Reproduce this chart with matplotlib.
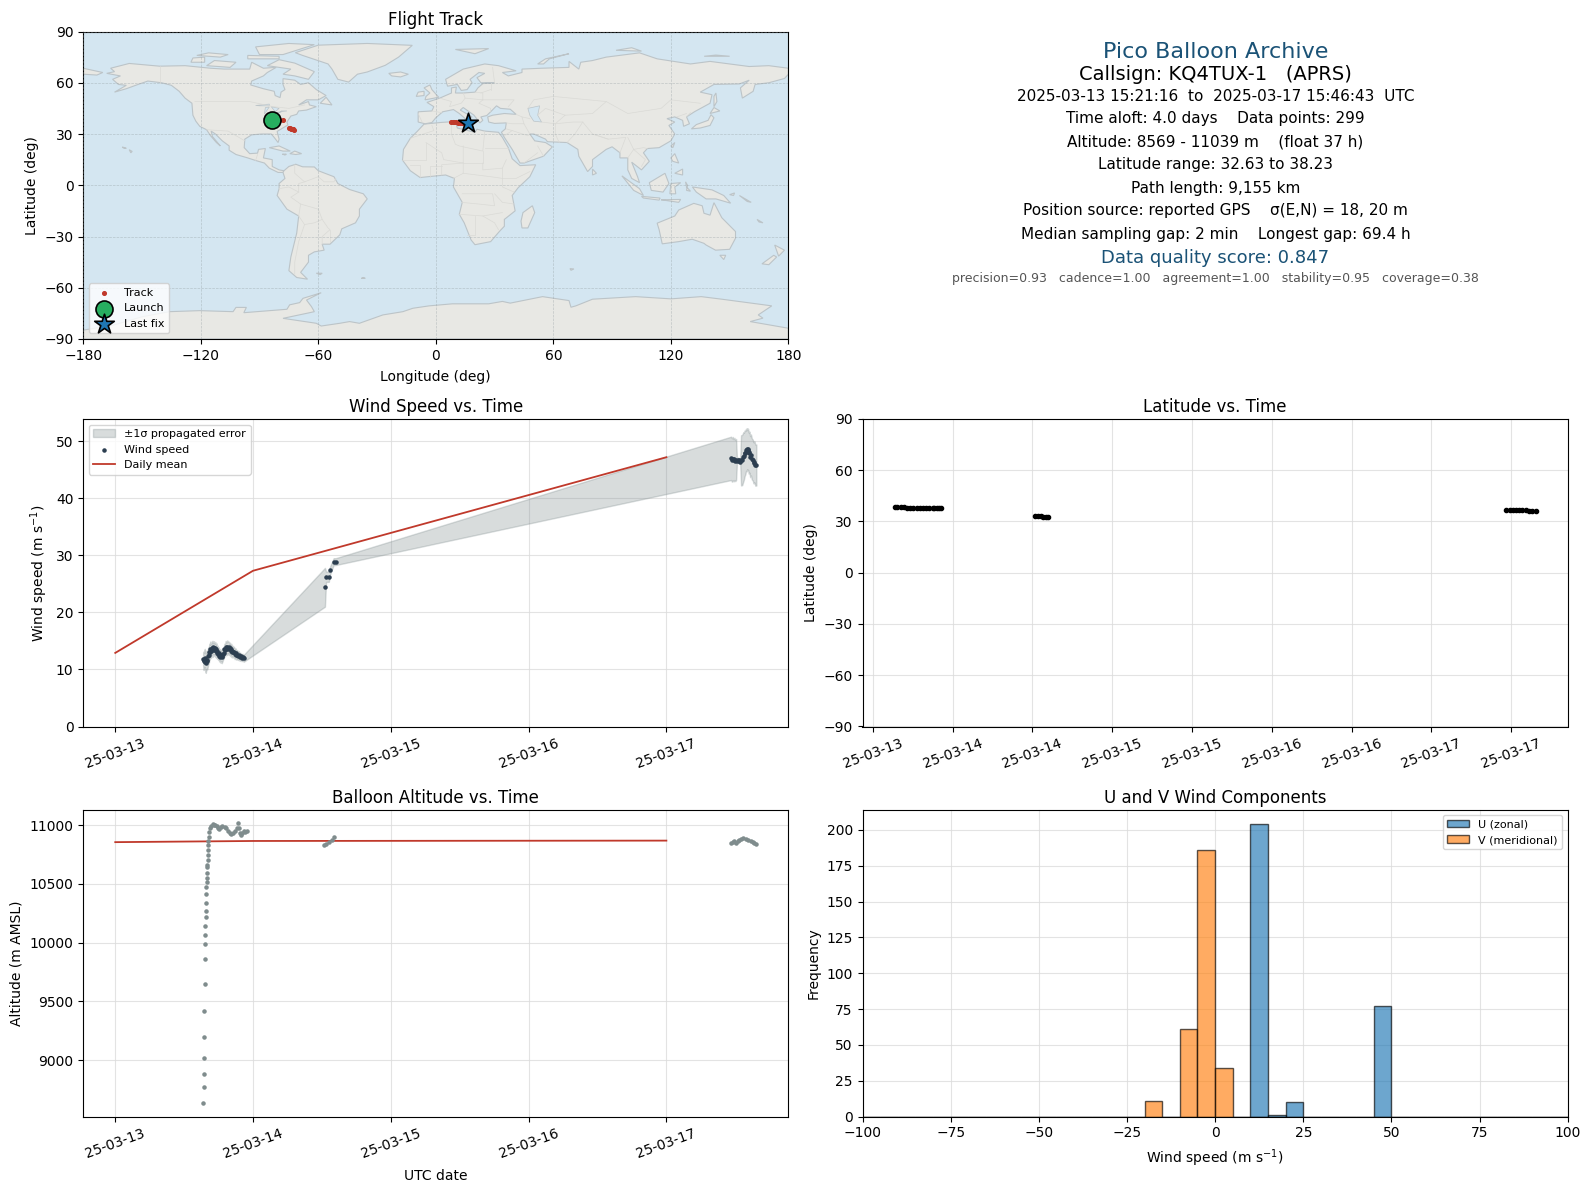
import matplotlib
matplotlib.use("Agg")
import matplotlib.pyplot as plt
import matplotlib.dates as mdates
import numpy as np
from datetime import datetime, timedelta

# -----------------------------
# DATA (time is day of March 2025)
# -----------------------------
wind_t = [13.638, 13.641, 13.645, 13.65, 13.654, 13.657, 13.663, 13.668, 13.674, 13.68, 13.683, 13.686, 13.69, 13.695,
          13.703, 13.707, 13.71, 13.714, 13.718, 13.722, 13.726, 13.73, 13.734, 13.738, 13.742, 13.746, 13.75, 13.754,
          13.758, 13.763, 13.768, 13.773, 13.778, 13.782, 13.787, 13.792, 13.797, 13.802, 13.808, 13.813, 13.819,
          13.823, 13.828, 13.832, 13.837, 13.842, 13.846, 13.85, 13.855, 13.861, 13.867, 13.873, 13.879, 13.885,
          13.891, 13.897, 13.903, 13.91, 13.917, 13.925, 13.932,
          14.522, 14.53, 14.55, 14.56, 14.585, 14.6,
          17.47, 17.476, 17.482, 17.488, 17.494, 17.5, 17.506, 17.512, 17.518, 17.524, 17.53, 17.536, 17.542, 17.55,
          17.559, 17.563, 17.568, 17.573, 17.578, 17.582, 17.586, 17.59, 17.593, 17.598, 17.603, 17.608, 17.614, 17.62,
          17.627, 17.633, 17.639, 17.646, 17.653]
wind_v = [11.9, 11.4, 11.7, 12.0, 11.3, 11.1, 11.7, 11.5, 12.3, 12.6, 13.1, 13.0, 13.6, 13.2,
          13.8, 13.4, 13.9, 13.5, 13.8, 13.4, 13.7, 13.2, 13.5, 12.9, 13.2, 12.7, 12.9, 12.4,
          12.6, 12.2, 12.5, 12.1, 12.4, 12.7, 12.9, 13.5, 13.4, 13.9, 13.6, 14.0, 13.7,
          13.9, 13.5, 13.7, 13.3, 13.5, 13.1, 13.3, 13.0, 13.1, 12.7, 12.9, 12.5, 12.6,
          12.35, 12.5, 12.2, 12.3, 12.05, 12.15, 11.95,
          24.4, 26.25, 26.25, 27.4, 28.9, 28.9,
          47.0, 46.7, 46.95, 46.65, 46.9, 46.6, 46.8, 46.55, 46.75, 46.5, 46.7, 46.4, 46.65, 46.7,
          47.3, 47.4, 47.9, 48.0, 48.5, 48.3, 48.7, 48.4, 48.6, 47.9, 48.1, 47.3, 47.6, 46.9,
          46.7, 46.2, 46.4, 45.8, 45.85]
wind_err = [1.2, 1.5, 1.5, 1.6, 1.7, 1.7, 1.6, 1.5, 1.5, 1.4, 1.4, 1.3, 1.3, 1.2,
            1.2, 1.2, 1.1, 1.1, 1.1, 1.1, 1.1, 1.1, 1.1, 1.0, 1.0, 1.0, 1.0, 1.0,
            1.0, 1.0, 1.0, 1.0, 1.0, 1.0, 1.0, 1.0, 1.1, 1.1, 1.1, 1.1, 1.1,
            1.0, 1.0, 1.0, 1.0, 1.0, 1.0, 0.9, 0.9, 0.9, 0.9, 0.8, 0.8, 0.8,
            0.7, 0.7, 0.7, 0.6, 0.6, 0.6, 0.6,
            3.4, 0.9, 0.9, 0.7, 0.6, 0.6,
            3.8, 3.8, 3.8, 3.7, 3.7, 3.6, 3.6, 0.4, 0.4, 0.4, 0.4, 0.4, 4.4, 4.4,
            4.3, 4.1, 4.0, 3.8, 3.7, 3.6, 3.6, 3.6, 3.6, 3.6, 3.6, 3.6, 3.6, 3.6,
            3.6, 3.6, 3.6, 3.6, 3.6]

daily_t = [13, 14, 17]
daily_wind = [12.9, 27.3, 47.2]
daily_alt = [10855, 10865, 10868]

alt_t = [13.639, 13.646, 13.646, 13.646, 13.646, 13.646, 13.653, 13.653, 13.653, 13.653, 13.653, 13.66, 13.66,
         13.66, 13.66, 13.66, 13.667, 13.667, 13.667, 13.667, 13.667, 13.675, 13.675, 13.675, 13.675, 13.675,
         13.682, 13.682, 13.687, 13.696, 13.706, 13.714, 13.723, 13.735, 13.747, 13.754, 13.764, 13.778, 13.795,
         13.807, 13.819, 13.831, 13.843, 13.855, 13.867, 13.88, 13.889, 13.896, 13.904, 13.911, 13.923, 13.933,
         13.94, 13.955,
         14.518, 14.53, 14.554, 14.571, 14.59,
         17.47, 17.482, 17.494, 17.506, 17.518, 17.53, 17.542, 17.559, 17.578, 17.593, 17.614, 17.627, 17.639,
         17.653]
alt_v = [8640, 8768, 8879, 9015, 9194, 9415, 9645, 9858, 9986, 10063, 10139, 10216, 10267,
         10335, 10412, 10472, 10514, 10548, 10591, 10642, 10659, 10702, 10744, 10787, 10830, 10867,
         10900, 10938, 10972, 10994, 11008, 11005, 11003, 10994, 10974, 10963, 10986, 10994, 10986,
         10974, 10952, 10935, 10923, 10929, 10946, 10974, 11014, 10974, 10929, 10912, 10929, 10946,
         10943, 10950,
         10830, 10838, 10852, 10872, 10895,
         10845, 10860, 10862, 10850, 10865, 10872, 10880, 10888, 10882, 10872, 10868, 10855, 10848,
         10842]

lat_t = [13.637, 13.655, 13.675, 13.695, 13.715, 13.735, 13.755, 13.775, 13.795, 13.815, 13.835, 13.855, 13.875,
         13.886, 13.9, 13.915, 13.93,
         14.519, 14.535, 14.552, 14.57, 14.585, 14.6,
         17.47, 17.49, 17.51, 17.53, 17.55, 17.57, 17.59, 17.61, 17.63, 17.653]
lat_v = [38.23, 38.2, 38.2, 38.2, 38.18, 38.18, 38.15, 38.15, 38.12, 38.1, 38.1, 38.08, 38.05,
         37.95, 37.8, 37.75, 37.7,
         33.4, 33.2, 33.0, 32.9, 32.75, 32.63,
         36.7, 36.7, 36.65, 36.65, 36.7, 36.6, 36.5, 36.4, 36.2, 36.05]

track_lon = [-83.6, -82, -80, -78, -75, -74.5, -74, -73.5, -73, -72.7, -72.5, 7.8, 8.6, 9.4, 10.4, 11.4, 12.4, 13.4, 14.4, 15.4, 16.2]
track_lat = [38.2, 38.2, 38.1, 38, 33.5, 33.4, 33.2, 33, 32.9, 32.75, 32.63, 36.9, 36.9, 36.85, 36.8, 36.7, 36.6, 36.6, 36.6, 36.6, 36.6]

# histogram, bins are 5 m/s wide
bin_edges = list(range(-100, 105, 5))
u_counts = [0] * 22 + [204, 1, 10] + [0] * 4 + [77] + [0] * 10
v_counts = [0] * 16 + [11, 0, 61, 186, 34] + [0] * 19

# map outlines, lon/lat
north_america = [(-168,65.5),(-164,66.5),(-166,68.5),(-156.5,71.3),(-141,69.7),(-128,70),(-115,68.5),(-108,68),(-95,68),(-94,72),(-88,68.5),(-81.5,69),(-86,66),(-88,64),(-94,61),(-94.5,58.7),(-88,56.5),(-82.5,55),(-82,52.5),(-79.5,51.3),(-79,54.5),(-77,56),(-78,59),(-78,62.4),(-72,61.5),(-69,59),(-65,60),(-61,56),(-56,52.5),(-60,50),(-66,50),(-70,47),(-65,49),(-64.5,47),(-61,46),(-66,44),(-70,43.5),(-71,41.5),(-74,40.5),(-76,37),(-75.5,35.3),(-81,31.5),(-80,27),(-80.5,25),(-82.5,28),(-84,30),(-89,30),(-94,29.5),(-97.5,27),(-97.8,22),(-95,18.5),(-91,18.8),(-90.5,21),(-87,21.5),(-88,16),(-83.5,15),(-83.5,11),(-80,9),(-77.5,8.5),(-78,7.5),(-80.5,7.5),(-85,10),(-87.5,13),(-92,14.5),(-96,16),(-102,18),(-105.5,20.5),(-105.5,23),(-109,26),(-112.5,30),(-114.7,31.7),(-114,28.5),(-110,23),(-112,25),(-115,29),(-117,32.5),(-120.5,34.5),(-122.5,37.5),(-124,41),(-124.5,48),(-128,51),(-131,55),(-135,58.5),(-140,60),(-147,61),(-152,59),(-158,56.5),(-164,54.5),(-158,58.5),(-162,59),(-165,62),(-161,64)]
south_america = [(-77.5,8.5),(-75,11),(-71.5,12.3),(-68,10.8),(-62,10.7),(-60,8.5),(-52,5),(-50,1),(-44,-2.5),(-37,-5),(-35,-8),(-39,-14),(-39,-18),(-41,-22),(-48,-25.5),(-49,-29),(-54,-34.5),(-58,-34.5),(-57,-38),(-62,-39),(-65,-41),(-65,-45),(-69,-51),(-65.5,-55),(-71,-54),(-75,-50),(-74,-42),(-72.5,-35),(-71,-28),(-70,-18),(-76,-14),(-81,-6),(-80,-2),(-80,1),(-77,4),(-78,7.5)]
africa = [(-6,35.8),(3,36.8),(10,37.3),(11,33.5),(20,31),(21,32.8),(25,31.7),(32,31),(34,28),(37,22),(39,15.5),(43,11.5),(51,12),(48,5),(42,-1.5),(39,-6),(40.5,-15),(35,-20),(35,-24),(32.5,-27),(28,-33),(20,-34.8),(18,-32),(14.5,-22),(12,-17),(13.5,-10),(9,-1),(9.5,4),(5,6),(-4,5),(-8,4.5),(-13,8.5),(-17,14.7),(-16.5,21),(-13,27.5),(-9.5,31.5)]
eurasia = [(-9,37),(-9,43),(-2,43.5),(-1,46),(-4.5,48.5),(2,51),(8,54),(8,57),(10.5,57.5),(10,54),(14,54),(20,54.5),(21.5,57),(24,59.5),(30,60),(23,60),(21,63),(25,65.5),(22,66),(17.5,62),(18.5,60),(16,56),(13,55.5),(11,59),(6,58),(5,62),(14,68),(25,71),(32,70),(41,67),(34,66),(37,64),(44,66),(44,68),(54,68.5),(68,69),(68,72.5),(73,68),(74,72),(80,73),(87,75),(104,77.5),(113,74),(130,71),(140,72.5),(160,69.5),(170,70),(180,68.5),(180,65),(178,62.5),(170,60),(163,59),(162,55),(156.5,51),(155.5,57),(160,61.5),(155,59.3),(142,59),(135,54.5),(141,53),(140,48),(132,43),(128,40),(129.5,36),(126.5,34.5),(126,38),(122,40),(118,39),(122,37),(119,35),(122,30),(120,26),(114,22),(108,21.5),(106,19),(109,14),(105,9),(100,13.5),(103,5),(104,1.5),(100,4),(98,9),(98,16),(94,16),(94,19),(90,22.5),(87,21),(80,15),(80,11),(77.5,8),(73,17),(72.5,21),(67,25),(57,25.5),(56,27),(50,30),(48,30),(50.5,26),(56,25),(59.5,22.5),(55,17),(45,13),(43,13),(39,21),(35,28),(33.5,31),(35.5,33),(36,36.5),(30,36.2),(27,37),(26.5,40),(29,41),(35,42),(41,41.5),(38,44.5),(33,45),(31,46.5),(28,43),(26,40.8),(23,40),(24,38),(22.5,36.5),(19.5,41),(14,45.5),(12.5,44),(18.5,40),(16,38),(12,42),(9,44.3),(3.5,43),(0,39.5),(-2,36.7),(-5.5,36)]
antarctica = [(-180,-84.8),(-165,-82),(-150,-77),(-136,-74),(-120.5,-73.4),(-103.5,-74),(-102,-71.5),(-96.7,-71.5),(-98,-74.6),(-76,-72.6),(-74.6,-70),(-69.5,-68.7),(-67.8,-66.2),(-58.5,-62.9),(-66,-67.2),(-63.5,-71),(-62,-74),(-64.4,-74.6),(-78,-77.9),(-61,-80.8),(-58.5,-82.4),(-49,-80.8),(-44,-79.8),(-39,-80.8),(-27,-75.9),(-16.8,-74),(-11.7,-72),(-3.4,-70.6),(8.5,-69.4),(27,-69.4),(34,-68),(38,-69),(54.5,-65.2),(68,-67.5),(69,-71.4),(71.5,-70.6),(80,-66.7),(102,-65.2),(120,-66.5),(135.5,-65.2),(146,-66.7),(171.5,-70.6),(164.6,-75.9),(167,-77.8),(160.5,-79.8),(180,-83.7),(180,-90),(-180,-90)]
australia = [(113,-22.2),(122,-18),(124,-14.5),(131.7,-10.6),(136,-12),(136.9,-16.4),(140,-17.5),(142,-10.2),(146,-19),(153,-27.1),(153,-31),(150,-37.5),(142.8,-38),(138,-35),(136.9,-34),(130.9,-31.6),(124,-33),(115.6,-34.3),(114,-26)]
islands = [
    [(-71.7,77.6),(-60,82),(-35,83),(-12,81.9),(-19,75),(-25.8,70.2),(-35,66.3),(-40,65),(-44.5,60.4),(-50,62),(-53,68),(-55,71),(-68,76)],
    [(-80,73.5),(-72,71.5),(-62,66.5),(-65,62),(-72,64),(-78,65),(-74,68),(-86,70)],
    [(-117,70),(-105,69),(-102,72),(-113,73)],
    [(-90,76.5),(-78,76.5),(-62,82.3),(-75,83),(-92,81)],
    [(-125,72),(-118,72),(-118,75),(-124,74.5)],
    [(-96,74),(-80,74),(-80,75.5),(-96,76)],
    [(-122,76),(-110,75),(-106,76.5),(-116,77.5)],
    [(-59,48),(-56,51.5),(-53,47)],
    [(-85,22),(-80,23),(-74.3,20),(-78,20)],
    [(-74.5,18.5),(-72,20),(-68.5,18.5),(-71.5,18)],
    [(-78.3,18.2),(-76.3,18.2),(-77,17.7)],
    [(-160,22.4),(-158,21.6),(-159.5,21.8)],
    [(-156.5,20.8),(-155,19.8),(-155.7,19)],
    [(49.3,-12),(50.5,-16),(47,-25),(44,-25),(43.5,-21),(44.5,-16)],
    [(-5.5,50),(1.5,51.5),(-2,56),(-3,58.7),(-6,57),(-3,54),(-5,52)],
    [(-10,52),(-6,52.5),(-6,55),(-9,54.5)],
    [(-24,65.5),(-18,66.3),(-14,65),(-18,63.4),(-22.5,64)],
    [(10,79.5),(27,80),(20,77)],
    [(52,71),(56,74),(68,77),(58,74),(55,71)],
    [(92,79),(105,78.5),(100,80.5)],
    [(137,75.5),(150,75.5),(143,76.2)],
    [(130.5,33),(135,33.5),(140,35),(142,39.5),(140.5,41.3),(139,38),(133,35.5)],
    [(140,42),(145,43.5),(142,45.5)],
    [(142,46),(143.5,49),(143,54),(142,52)],
    [(120,23),(122,25),(121,22)],
    [(120,16),(122,18.5),(124,13),(121,14)],
    [(122,7),(126,9.5),(126,6)],
    [(109,1.5),(117,7),(119,1),(116,-4),(110,-3)],
    [(95,5.5),(104,-2),(106,-6),(101,-3)],
    [(105,-6.5),(114.5,-7.5),(114,-8.7),(106,-7.5)],
    [(119.5,-5),(120,1),(125,1.5),(122,-1),(122.5,-5)],
    [(115,-8.5),(125,-8.3),(124,-10),(118,-9)],
    [(127.5,2),(128.5,0),(128,-3),(130,-3.5),(128,-1)],
    [(131,-1),(141,-2.7),(147,-6),(150.5,-10.5),(143,-8),(138,-8),(133,-4)],
    [(150,-5.5),(152.5,-4.5),(152,-6)],
    [(155,-6),(161,-10),(159,-9.5)],
    [(164,-20),(167,-22),(165,-21.5)],
    [(145,-41),(148,-41),(147,-43.5)],
    [(173,-35),(178,-38),(175,-41.5)],
    [(172.5,-41),(174,-42),(170,-46.5),(166.5,-46)],
    [(80,9.5),(82,7),(80,6)],
    [(-180,68.5),(-170,66),(-173,64.5),(-180,65)],
    [(-61,-51.5),(-58,-51.5),(-59,-52.3)],
    [(-37,-54),(-36,-54.5),(-38,-54.5)],
    [(68.5,-48.8),(70.5,-49),(69,-49.8)],
]
lakes = [
    [(47,45),(53,46.5),(52,41),(54,37),(50,37.5),(48,41)],
    [(-92,46.7),(-85,47.5),(-85,46.5),(-90,46.5)],
    [(-87.5,41.7),(-85,45.8),(-87,45.5)],
    [(-84,46),(-80,45),(-82,43)],
    [(-83,42),(-79,42.8),(-79,43.5),(-76,43.5),(-79.5,43)],
]
borders = [
    [(-141,69.7),(-141,60)], [(-123,49),(-95,49),(-83,46),(-75,45),(-67,47)], [(-117,32.5),(-106,31.7),(-97.5,26)],
    [(-92,14.5),(-91,18)], [(-70,-18),(-69,-11),(-74,-7),(-70,-4),(-70,1),(-67,2),(-60,5)], [(-80,-2),(-75,-1),(-70,-4)],
    [(-72,12),(-72,7),(-67,2)], [(-69,-11),(-60,-14),(-58,-20),(-62,-22),(-67,-23),(-70,-18)],
    [(-58,-20),(-55,-25),(-54,-26),(-58,-30),(-58,-34.5)], [(-67,-23),(-70,-33),(-72,-45),(-72,-52)],
    [(-54,-26),(-54,-33.5)], [(-60,5),(-57,2),(-52,2),(-51,4)],
    [(-13,27.5),(-1,32),(-2,35)], [(8,37),(8,30),(10,24),(12,23),(24,20),(25,31.7)], [(25,22),(37,22)],
    [(-5,25),(3,19),(4,15),(14,13),(14,23)], [(-17,15),(-5,15),(-5,25)], [(14,13),(24,13),(24,20)],
    [(24,13),(24,9),(34,10),(36,15)], [(34,10),(34,4),(41,4),(48,8)], [(3,6),(3,12),(14,13)], [(9,4),(14,7),(14,13)],
    [(14,7),(28,5),(34,4)], [(13.5,-5),(29,-5),(30,-12),(22,-11),(13,-10)], [(34,4),(34,-1),(40,-4)],
    [(30,-5),(34,-10),(40,-11)], [(12,-17),(24,-18),(34,-16)], [(20,-18),(20,-29),(16,-29)], [(24,-18),(30,-22),(32,-26)],
    [(-8,5),(-8,12),(-13,12)], [(-3,5),(-3,11),(3,11)],
    [(2,51),(8,49),(7,46),(10,47),(13,48),(15,51),(14,54)], [(-2,43.5),(3,42.5)], [(-9,42),(-7,37)], [(15,51),(24,50),(24,54),(20,54.5)],
    [(24,50),(40,50),(37,46)], [(24,50),(22,48),(28,45),(28,43)], [(28,56),(28,60)], [(23,54),(28,56)], [(30,60),(29,69)],
    [(41,41.5),(44,40),(45,36),(39,36),(36,36.5)], [(45,36),(48,30)], [(36,33),(39,32),(47,29),(48,30)], [(35,29),(39,32)],
    [(44,40),(48,39)], [(52,41),(56,45),(66,41),(61,36),(54,37)], [(61,36),(61,30),(63,25)], [(61,36),(70,37),(75,37),(71,30),(67,25)],
    [(75,37),(80,30),(88,27),(97,28),(94,19)], [(80,30),(88,27)], [(66,41),(80,42),(87,49),(98,42),(115,45),(120,50),(135,48)],
    [(87,49),(60,52),(50,50),(47,45)], [(98,28),(101,21),(106,22),(108,21.5)], [(101,21),(98,16)], [(101,21),(107,15),(105,11)],
    [(128,40),(130,42.5)], [(123,40),(128,42)], [(55,17),(52,23)], [(45,13),(52,19)],
]

# -----------------------------
# HELPERS
# -----------------------------
def to_dates(days):
    return [datetime(2025, 3, 1) + timedelta(days=d - 1) for d in days]

def style_time_axis(ax):
    ax.xaxis.set_major_formatter(mdates.DateFormatter("%y-%m-%d"))
    ax.tick_params(axis="x", labelrotation=20)
    ax.grid(True, color="#dcdcdc", linewidth=0.8, alpha=0.8)
    ax.set_axisbelow(True)

W, H = 1590, 1189
fig = plt.figure(figsize=(W / 100, H / 100), dpi=100)

def add_axes(x0, y0, x1, y1):
    return fig.add_axes([x0 / W, 1 - y1 / H, (x1 - x0) / W, (y1 - y0) / H])

RED = "#c0392b"
NAVY = "#2c3e50"
GREY = "#7f8c8d"
BLUE = "#1a5276"
OCEAN = "#d4e6f1"

# -----------------------------
# FLIGHT TRACK MAP
# -----------------------------
ax = add_axes(83.2, 31.5, 788.4, 339)
ax.set_facecolor(OCEAN)
land = [north_america, south_america, africa, eurasia, antarctica, australia] + islands
for poly in land:
    xy = np.array(poly)
    ax.fill(xy[:, 0], xy[:, 1], facecolor="#e8e8e4", edgecolor="#bcc4c8", linewidth=0.8, zorder=1)
for poly in lakes:
    xy = np.array(poly)
    ax.fill(xy[:, 0], xy[:, 1], facecolor=OCEAN, edgecolor="#bcc4c8", linewidth=0.5, zorder=1)
for line in borders:
    xy = np.array(line)
    ax.plot(xy[:, 0], xy[:, 1], color="#dadad6", linewidth=0.5, zorder=1)
ax.scatter(track_lon, track_lat, s=7, color=RED, label="Track", zorder=3)
ax.scatter(track_lon[0], track_lat[0], s=150, color="#27ae60", edgecolor="black", linewidth=1.2, label="Launch", zorder=4)
ax.scatter(track_lon[-1], track_lat[-1], s=220, marker="*", color="#1f77b4", edgecolor="black", linewidth=1.2, label="Last fix", zorder=5)
ax.set_xlim(-180, 180)
ax.set_ylim(-90, 90)
ax.set_xticks(range(-180, 181, 60))
ax.set_yticks(range(-90, 91, 30))
ax.grid(True, color="#8f9a9e", linewidth=0.5, linestyle="--", alpha=0.45, zorder=2)
ax.set_axisbelow(False)
ax.set_xlabel("Longitude (deg)", labelpad=5)
ax.set_ylabel("Latitude (deg)")
ax.set_title("Flight Track", fontsize=12, pad=5)
ax.legend(loc="lower left", fontsize=8)

# -----------------------------
# SUMMARY TEXT
# -----------------------------
cx = 1215.5 / W
summary = [
    (52.5, "Pico Balloon Archive", 16, BLUE),
    (74.5, "Callsign: KQ4TUX-1   (APRS)", 14, "black"),
    (96.5, "2025-03-13 15:21:16  to  2025-03-17 15:46:43  UTC", 11, "black"),
    (118, "Time aloft: 4.0 days    Data points: 299", 11, "black"),
    (142, "Altitude: 8569 - 11039 m    (float 37 h)", 11, "black"),
    (164, "Latitude range: 32.63 to 38.23", 11, "black"),
    (188, "Path length: 9,155 km", 11, "black"),
    (210.5, "Position source: reported GPS    \u03c3(E,N) = 18, 20 m", 11, "black"),
    (234.5, "Median sampling gap: 2 min    Longest gap: 69.4 h", 11, "black"),
    (258, "Data quality score: 0.847", 13, BLUE),
    (278.5, "precision=0.93   cadence=1.00   agreement=1.00   stability=0.95   coverage=0.38", 9, "#555555"),
]
for y, txt, size, col in summary:
    fig.text(cx, 1 - y / H, txt, ha="center", va="center", fontsize=size, color=col)

# -----------------------------
# WIND SPEED
# -----------------------------
ax = add_axes(83.2, 419, 788.4, 726.5)
wt = to_dates(wind_t)
lo = np.array(wind_v) - np.array(wind_err)
hi = np.array(wind_v) + np.array(wind_err)
ax.fill_between(wt, lo, hi, color=GREY, alpha=0.3, label="\u00b11\u03c3 propagated error")
ax.scatter(wt, wind_v, s=5, color=NAVY, label="Wind speed", zorder=3)
ax.plot(to_dates(daily_t), daily_wind, color=RED, linewidth=1.3, label="Daily mean", zorder=2)
ax.set_ylim(0, 53.9)
ax.set_xticks(to_dates([13, 14, 15, 16, 17]))
style_time_axis(ax)
ax.set_ylabel("Wind speed (m s$^{-1}$)")
ax.set_title("Wind Speed vs. Time", fontsize=12, pad=5)
ax.legend(loc="upper left", fontsize=8)

# -----------------------------
# LATITUDE
# -----------------------------
ax = add_axes(862.5, 419, 1567.7, 726.5)
ax.scatter(to_dates(lat_t), lat_v, s=9, color="black", zorder=3)
ax.set_ylim(-90, 90)
ax.set_yticks(range(-90, 91, 30))
ax.set_xticks(to_dates([13.5, 14, 14.5, 15, 15.5, 16, 16.5, 17, 17.5]))
style_time_axis(ax)
ax.set_ylabel("Latitude (deg)")
ax.set_title("Latitude vs. Time", fontsize=12, pad=5)

# -----------------------------
# ALTITUDE
# -----------------------------
ax = add_axes(83.2, 809.5, 788.4, 1116.5)
ax.scatter(to_dates(alt_t), alt_v, s=5, color=GREY, zorder=3)
ax.plot(to_dates(daily_t), daily_alt, color=RED, linewidth=1.3, zorder=2)
ax.set_xticks(to_dates([13, 14, 15, 16, 17]))
style_time_axis(ax)
ax.set_xlabel("UTC date", labelpad=6)
ax.set_ylabel("Altitude (m AMSL)")
ax.set_title("Balloon Altitude vs. Time", fontsize=12, pad=5)

# -----------------------------
# U / V HISTOGRAM
# -----------------------------
ax = add_axes(862.5, 809.5, 1567.7, 1116.5)
centres = (np.array(bin_edges[:-1]) + np.array(bin_edges[1:])) / 2
ax.hist(centres, bins=bin_edges, weights=u_counts, color="#1f77b4", alpha=0.65, edgecolor="black", label="U (zonal)")
ax.hist(centres, bins=bin_edges, weights=v_counts, color="#ff7f0e", alpha=0.65, edgecolor="black", label="V (meridional)")
ax.set_xlim(-100, 100)
ax.grid(True, color="#dcdcdc", linewidth=0.8, alpha=0.8)
ax.set_axisbelow(True)
ax.set_xlabel("Wind speed (m s$^{-1}$)", labelpad=5)
ax.set_ylabel("Frequency")
ax.set_title("U and V Wind Components", fontsize=12, pad=5)
ax.legend(loc="upper right", fontsize=8)

fig.savefig("out.png", dpi=100)
